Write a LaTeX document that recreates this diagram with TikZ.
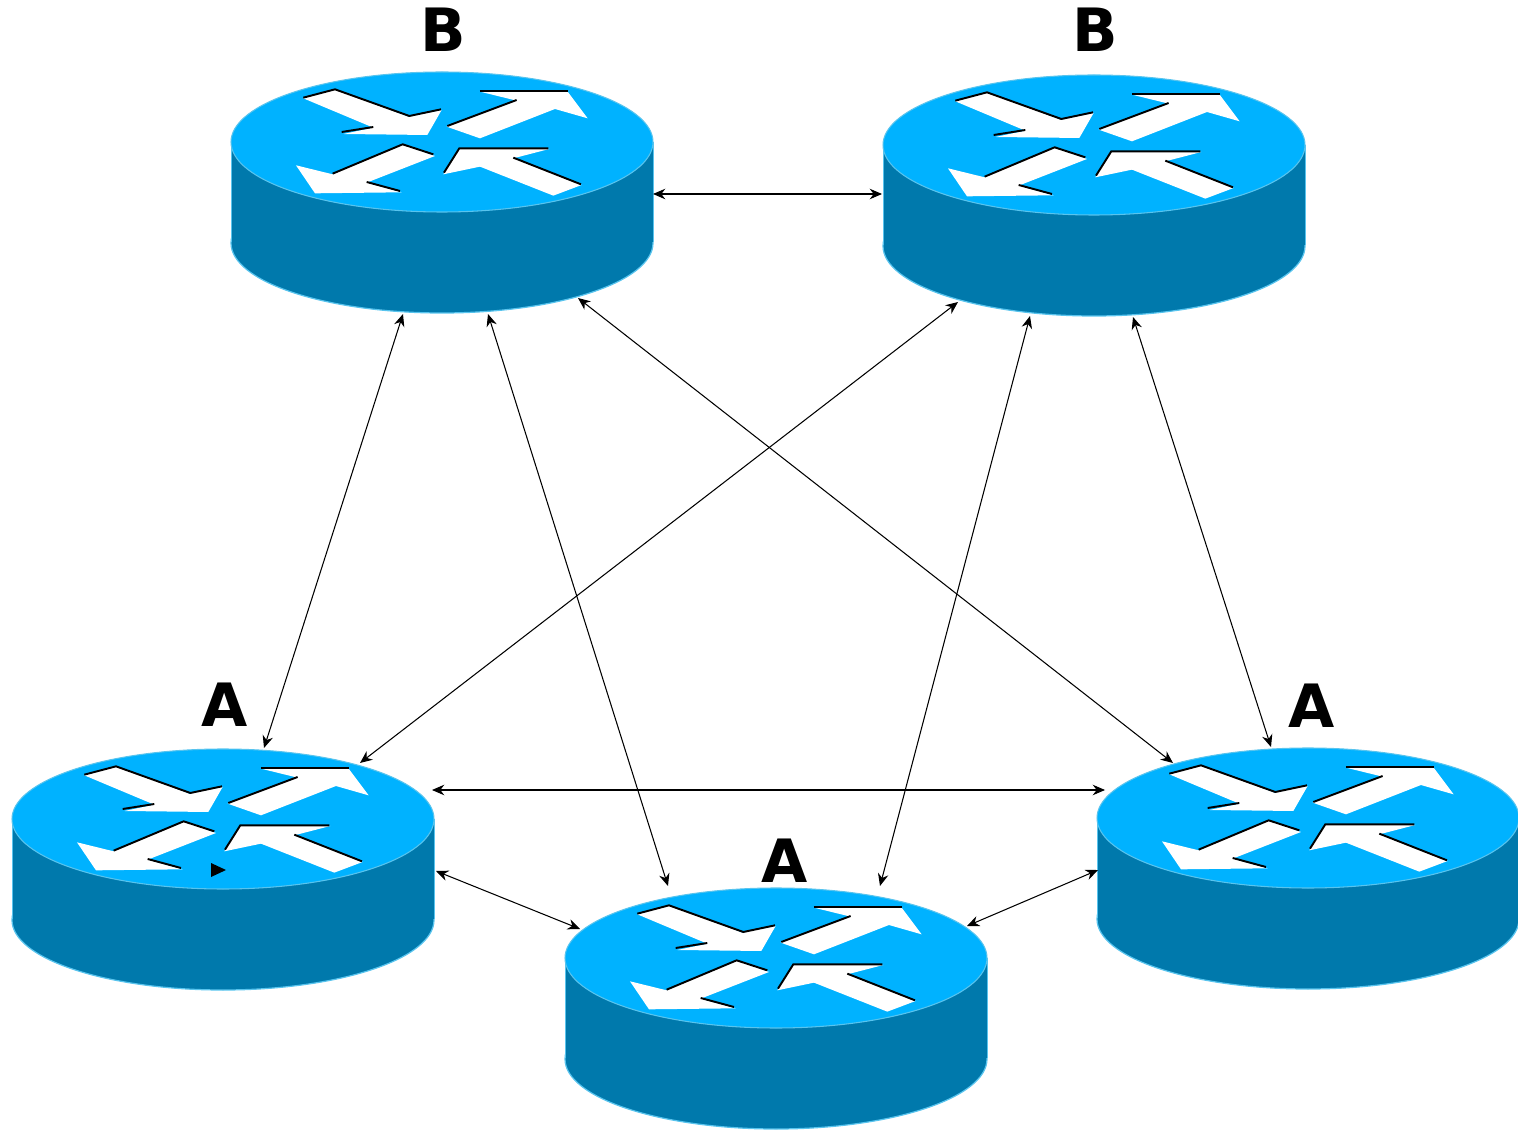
\documentclass[tikz,border=0pt]{standalone}
\usepackage{fontspec}
\setmainfont{DejaVu Sans}
\usetikzlibrary{arrows.meta}

\definecolor{routertop}{HTML}{00B2FF}
\definecolor{routerside}{HTML}{0079AC}
\definecolor{routerrim}{HTML}{58C4EE}

\tikzset{
    router/.pic={
        \fill[routerside,draw=routerrim,line width=0.7pt] (0,101) ellipse [x radius=211,y radius=70];
        \fill[routerside] (-211,0) rectangle (211,100);
        \draw[routerrim,line width=0.4pt] (-211,0) -- (-211,100) (211,0) -- (211,100);
        \fill[routertop,draw=routerrim,line width=0.6pt] (0,0) ellipse [x radius=211,y radius=70];
        \begin{scope}[shift={(-222,-82)},scale=0.3333]
            \fill[white] (250,115) -- (345,88) -- (565,170) -- (665,150) -- (622,225) -- (370,222) -- (460,203) -- cycle;
            \fill[white] (780,95) -- (1043,95) -- (1103,175) -- (1005,147) -- (780,235) -- (680,200) -- (890,122) -- cycle;
            \fill[white] (228,316) -- (338,343) -- (548,253) -- (645,288) -- (440,368) -- (545,397) -- (285,400) -- cycle;
            \fill[white] (670,343) -- (718,265) -- (988,267) -- (880,295) -- (1085,375) -- (1000,407) -- (780,320) -- cycle;
            \draw[shadowline] (250,115) -- (345,90) -- (568,170) -- (663,150);
            \draw[shadowline] (365,218) -- (460,203);
            \draw[shadowline] (780,95) -- (1043,95);
            \draw[shadowline] (682,200) -- (890,122);
            \draw[shadowline] (338,343) -- (548,255) -- (640,285);
            \draw[shadowline] (440,368) -- (540,395);
            \draw[shadowline] (672,340) -- (718,267) -- (985,267);
            \draw[shadowline] (880,295) -- (1083,375);
        \end{scope}
    },
    shadowline/.style={black,line width=1.1pt,shift={(0,-2)}},
    port/.style={inner sep=0pt,outer sep=0pt,minimum size=0pt},
    link/.style={black,line width=0.6pt,{Stealth[length=7pt,width=6pt]}-{Stealth[length=7pt,width=6pt]}},
    rlabel/.style={font=\fontsize{34}{34}\selectfont\bfseries,inner sep=0pt}
}

\begin{document}
\begin{tikzpicture}[x=0.02cm,y=-0.02cm]
    \useasboundingbox (0,0) rectangle (1518,1131);

    \pic at (442,142) {router};
    \pic at (1094,145) {router};
    \pic at (223,819) {router};
    \pic at (776,958) {router};
    \pic at (1308,818) {router};

    \fill[black] (211,863) -- (226,870) -- (211,877) -- cycle;

    \node[rlabel] (labelB1) at (443,30) {B};
    \node[rlabel] (labelB2) at (1095,30) {B};
    \node[rlabel] (labelA1) at (225,705) {A};
    \node[rlabel] (labelA2) at (785,861) {A};
    \node[rlabel] (labelA3) at (1312,706) {A};

    \foreach \name/\x/\y in {B1e/653/194, B1a/403/314, B1b/488/314, B1c/578/298,
                             B2w/882/194, B2a/958/302, B2b/1030/316, B2c/1133/317,
                             A1a/264/748, A1b/360/763, A1e/432/790, A1c/436/871,
                             A2a/668/886, A2b/880/886, A2w/580/929, A2e/967/926,
                             A3a/1173/763, A3b/1271/747, A3w/1105/790, A3c/1098/870}
        \node[port] (\name) at (\x,\y) {};

    \foreach \from/\to in {B1e/B2w, B1a/A1a, B1b/A2a, B1c/A3a, B2a/A1b,
                           B2b/A2b, B2c/A3b, A1e/A3w, A1c/A2w, A2e/A3c}
        \draw[link] (\from) -- (\to);
\end{tikzpicture}
\end{document}
